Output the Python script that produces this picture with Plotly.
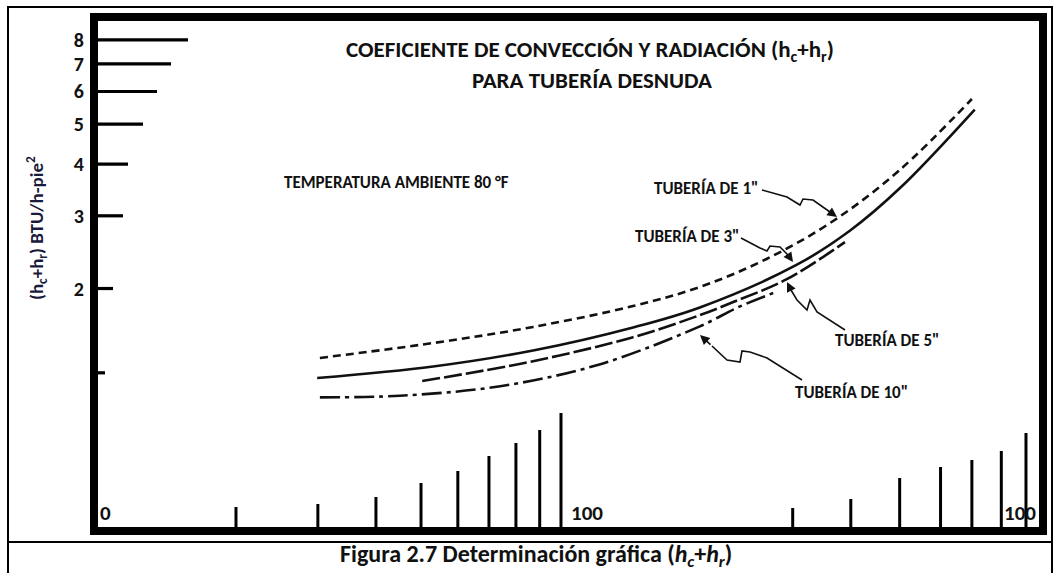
import plotly.graph_objects as go

# ---------------- data ----------------
temp_1in = [30.3, 53.1, 87.1, 142.9, 198.9, 276.7, 384.8, 535.1, 764.9]
coef_1in = [1.358, 1.476, 1.614, 1.814, 2.017, 2.358, 2.914, 3.873, 5.754]

temp_3in = [29.9, 53.1, 87.1, 142.9, 198.9, 321.7, 418.0, 535.1, 776.0]
coef_3in = [1.214, 1.295, 1.416, 1.610, 1.800, 2.284, 2.760, 3.497, 5.426]

temp_5in = [50.3, 87.1, 142.9, 198.9, 234.0, 306.0, 408.0]
coef_5in = [1.194, 1.334, 1.525, 1.724, 1.853, 2.107, 2.590]

temp_10in = [30.3, 45.0, 74.0, 121.0, 198.9, 240.0, 286.0]
coef_10in = [1.09, 1.10, 1.16, 1.31, 1.62, 1.80, 1.95]

y_tick_vals = [8, 7, 6, 5, 4, 3, 2, 1.25]
y_tick_text = ["<b>8</b>", "<b>7</b>", "<b>6</b>", "<b>5</b>", "<b>4</b>", "<b>3</b>", "<b>2</b>", ""]

x_tick_vals_low = [20, 30, 40, 50, 60, 70, 80, 90, 100]
x_tick_vals_high = [315, 420, 535, 655, 765, 885, 1000]

# ---------------- styles / layout geometry ----------------
W_FIG, H_FIG = 1059, 573
L, R, T, B = 94, 1043, 17, 531          # plot-area edges in pixels
PW, PH = R - L, B - T
XR = [0.9957, 3.0366]                   # log10 range of x axis
YR = [-0.2861, 0.9585]                  # log10 range of y axis

y_tick_len_px = [94, 77, 63, 49, 34, 29, 19, 11]
x_tick_h_low_px = [24, 27, 34, 48, 60, 75, 88, 101, 118]
x_tick_h_high_px = [23, 32, 53, 64, 71, 80, 98]

FONT = "Carlito, Lato, 'Open Sans', sans-serif"
INK = "#111111"

# leader lines (pixel polylines, last point is the arrow tip)
leaders = [
    [(762, 190), (787, 197), (800, 205), (803, 199), (813, 200), (830, 212), (837, 217)],
    [(741, 238), (760, 248), (767, 251), (770, 246), (780, 247), (788, 255), (793, 262)],
    [(845, 330), (817, 312), (810, 300), (807, 310), (797, 300), (791, 290), (787, 282)],
    [(802, 380), (767, 358), (750, 352), (742, 351), (740, 362), (727, 360), (712, 346), (700, 335)],
]


def px_x(px):
    return (px - L) / PW


def px_y(py):
    return (B - py) / PH


def xval_from_len(length_px):
    return 10 ** (XR[0] + length_px / PW * (XR[1] - XR[0]))


def yval_from_height(h_px):
    return 10 ** (YR[0] + h_px / PH * (YR[1] - YR[0]))


fig = go.Figure()

# curves
curve_specs = [
    (temp_1in, coef_1in, "8px,5px", 'Tubería de 1"'),
    (temp_3in, coef_3in, "solid", 'Tubería de 3"'),
    (temp_5in, coef_5in, "18px,4px", 'Tubería de 5"'),
    (temp_10in, coef_10in, "20px,5px,4px,5px", 'Tubería de 10"'),
]
for xs, ys, dash, name in curve_specs:
    fig.add_trace(go.Scatter(x=xs, y=ys, mode="lines", name=name,
                             line=dict(color=INK, width=2.6, dash=dash, shape="spline", smoothing=1.0),
                             hoverinfo="skip", showlegend=False))

# y-axis drawn tick bars
yx, yy = [], []
x_left = 10 ** XR[0]
for v, ln in zip(y_tick_vals, y_tick_len_px):
    yx += [x_left, xval_from_len(ln), None]
    yy += [v, v, None]
fig.add_trace(go.Scatter(x=yx, y=yy, mode="lines", line=dict(color="black", width=3.2),
                         hoverinfo="skip", showlegend=False))

# x-axis drawn tick bars
xx, xy = [], []
y_bot = 10 ** YR[0]
for v, h in zip(x_tick_vals_low + x_tick_vals_high, x_tick_h_low_px + x_tick_h_high_px):
    xx += [v, v, None]
    xy += [y_bot, yval_from_height(h), None]
fig.add_trace(go.Scatter(x=xx, y=xy, mode="lines", line=dict(color="black", width=3),
                         hoverinfo="skip", showlegend=False))

shapes = [
    dict(type="rect", xref="paper", yref="paper", x0=0, y0=0, x1=1, y1=1,
         line=dict(color="black", width=8), layer="above"),
    dict(type="rect", xref="paper", yref="paper", x0=px_x(8), y0=px_y(590), x1=px_x(1052), y1=px_y(7),
         line=dict(color="black", width=2), layer="above"),
    dict(type="line", xref="paper", yref="paper", x0=px_x(8), y0=px_y(542), x1=px_x(1052), y1=px_y(542),
         line=dict(color="black", width=2), layer="above"),
]
for pts in leaders:
    path = "M " + " L ".join(f"{px_x(a):.5f},{px_y(b):.5f}" for a, b in pts[:-1])
    shapes.append(dict(type="path", xref="paper", yref="paper", path=path,
                       line=dict(color=INK, width=1.6), layer="above"))


def txt(text, px, py, size, xanchor="center", angle=0, color=INK):
    return dict(text=text, x=px_x(px), y=px_y(py), xref="paper", yref="paper",
                xanchor=xanchor, yanchor="middle", showarrow=False, textangle=angle,
                font=dict(family=FONT, size=size, color=color))


def arrow(tail, tip):
    return dict(text="", x=px_x(tip[0]), y=px_y(tip[1]), xref="paper", yref="paper",
                ax=tail[0] - tip[0], ay=tail[1] - tip[1], showarrow=True,
                arrowhead=2, arrowsize=1.2, arrowwidth=1.6, arrowcolor=INK)


annotations = [
    txt("<b>COEFICIENTE DE CONVECCIÓN Y RADIACIÓN (h<sub>c</sub>+h<sub>r</sub>)</b>", 590, 51, 23),
    txt("<b>PARA TUBERÍA DESNUDA</b>", 592, 80, 23),
    txt("<b>TEMPERATURA AMBIENTE 80 °F</b>", 282, 183, 17, xanchor="left"),
    txt("<b>TUBERÍA DE 1\"</b>", 652, 188, 17, xanchor="left"),
    txt("<b>TUBERÍA DE 3\"</b>", 633, 236, 17, xanchor="left"),
    txt("<b>TUBERÍA DE 5\"</b>", 833, 340, 17, xanchor="left"),
    txt("<b>TUBERÍA DE 10\"</b>", 793, 392, 17, xanchor="left"),
    txt("<b>0</b>", 98, 513, 21, xanchor="left"),
    txt("<b>100</b>", 569, 513, 21, xanchor="left"),
    txt("<b>100</b>", 1002, 513, 21, xanchor="left"),
    txt("<b>(h<sub>c</sub>+h<sub>r</sub>) BTU/h-pie<sup>2</sup></b>", 36, 228, 19, angle=-90, color="#1a1a3a"),
    txt("<b>Figura 2.7 Determinación gráfica (<i>h<sub>c</sub></i>+<i>h<sub>r</sub></i>)</b>", 536, 555, 24),
]
for pts in leaders:
    annotations.append(arrow(pts[-2], pts[-1]))

fig.update_layout(
    width=W_FIG, height=H_FIG,
    margin=dict(l=L, r=W_FIG - R, t=T, b=H_FIG - B, autoexpand=False),
    paper_bgcolor="white", plot_bgcolor="white",
    showlegend=False,
    shapes=shapes, annotations=annotations,
    xaxis=dict(type="log", range=XR, showgrid=False, zeroline=False, showline=False,
               ticks="", showticklabels=False),
    yaxis=dict(type="log", range=YR, showgrid=False, zeroline=False, showline=False,
               ticks="", tickvals=y_tick_vals, ticktext=y_tick_text, ticklabelstandoff=9,
               tickfont=dict(family=FONT, size=20, color=INK)),
    font=dict(family=FONT, color=INK),
)

fig.write_html("out.html", config={"displayModeBar": False},
               post_script="document.body.style.margin='0';document.body.style.overflow='hidden';")
